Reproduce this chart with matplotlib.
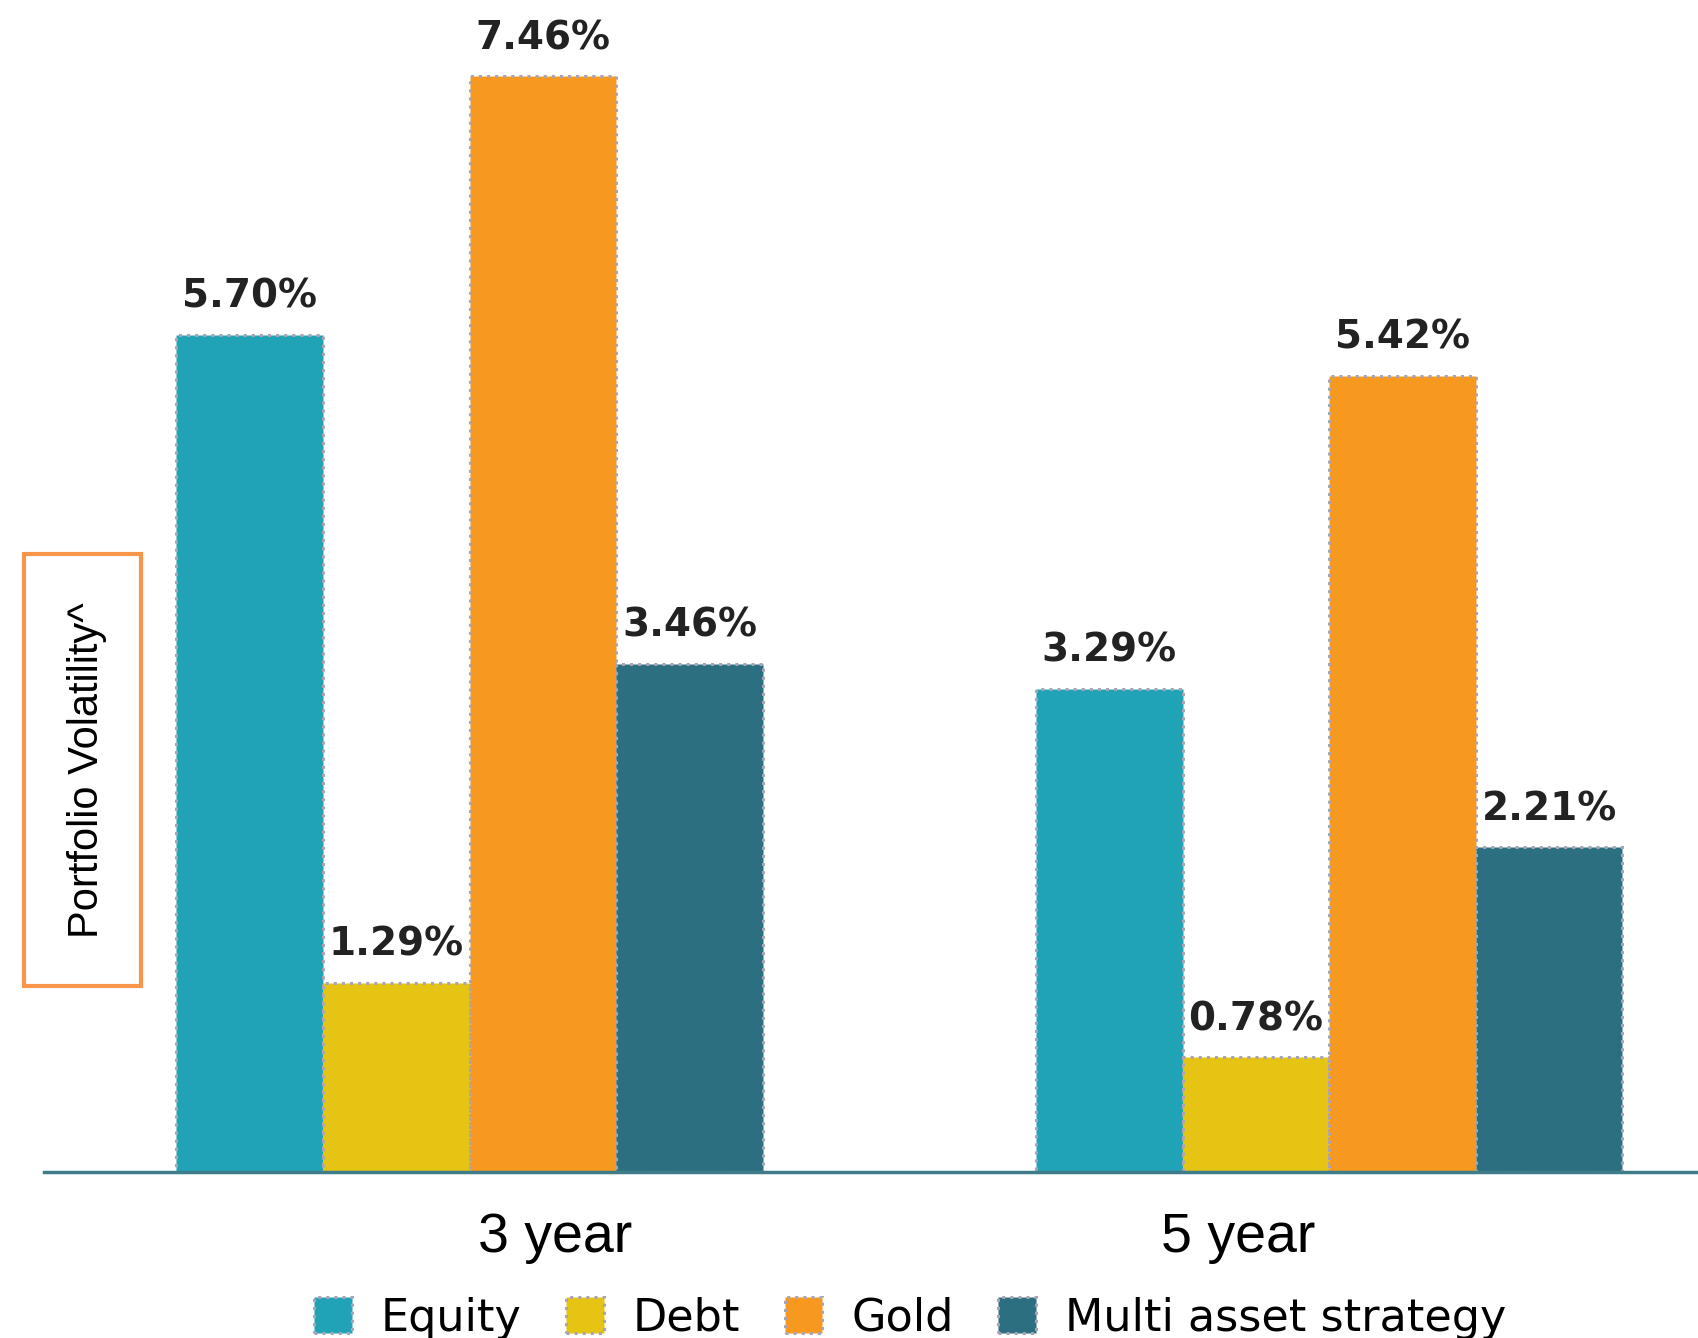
import numpy as np
import matplotlib.pyplot as plt
from matplotlib.patches import Rectangle

periods = ['3 year', '5 year']
series = ['Equity', 'Debt', 'Gold', 'Multi asset strategy']
equity = [5.70, 3.29]
debt = [1.29, 0.78]
gold = [7.46, 5.42]
multi = [3.46, 2.21]
colors = ['#20a3b6', '#e6c414', '#f7991f', '#2c6f80']


def main():
    values = [equity, debt, gold, multi]
    fig = plt.figure(figsize=(16.98, 13.38), dpi=100)
    ax = fig.add_axes([44 / 1698, 166 / 1338, 1654 / 1698, 1172 / 1338])

    x = np.arange(len(periods))
    w = 0.1705
    handles = []
    for i, (name, vals) in enumerate(zip(series, values)):
        pos = x + (i - 1.5) * w
        b = ax.bar(pos, vals, w, color=colors[i], edgecolor='#a8a4b4',
                   linestyle=':', linewidth=2.2, label=name)
        handles.append(b)
        for p, v in zip(pos, vals):
            ax.text(p, v + 0.13, f'{v:.2f}%', ha='center', va='bottom',
                    fontsize=28, fontweight='bold', color='#222222',
                    family='DejaVu Sans')

    ax.set_xlim(-0.495, 1.429)
    ax.set_ylim(0, 7.98)
    for s in ['top', 'right', 'left']:
        ax.spines[s].set_visible(False)
    ax.spines['bottom'].set_color('#3d7c88')
    ax.spines['bottom'].set_linewidth(2.5)
    ax.set_yticks([])
    # the period labels sit a little toward the middle of the chart
    ax.set_xticks([0.099, 0.894])
    ax.set_xticklabels(periods, fontsize=40, family='Liberation Sans')
    ax.tick_params(axis='x', length=0, pad=29)

    # y label inside an orange box
    fig.patches.append(Rectangle((24 / 1698, 1 - 986 / 1338), 117 / 1698, 432 / 1338,
                                 transform=fig.transFigure, fill=False,
                                 edgecolor='#f7964a', linewidth=3))
    fig.text(87 / 1698, 1 - 770 / 1338, 'Portfolio Volatility^', rotation=90,
             ha='center', va='center', fontsize=30, family='Liberation Sans')

    fig.legend(handles, series, loc='center', bbox_to_anchor=(0.536, 1 - 1318 / 1338),
               ncol=4, frameon=False, fontsize=32, handlelength=0.85, handleheight=0.85,
               handletextpad=0.65, columnspacing=1.0)

    fig.savefig('out.png', dpi=100)


if __name__ == '__main__':
    main()
